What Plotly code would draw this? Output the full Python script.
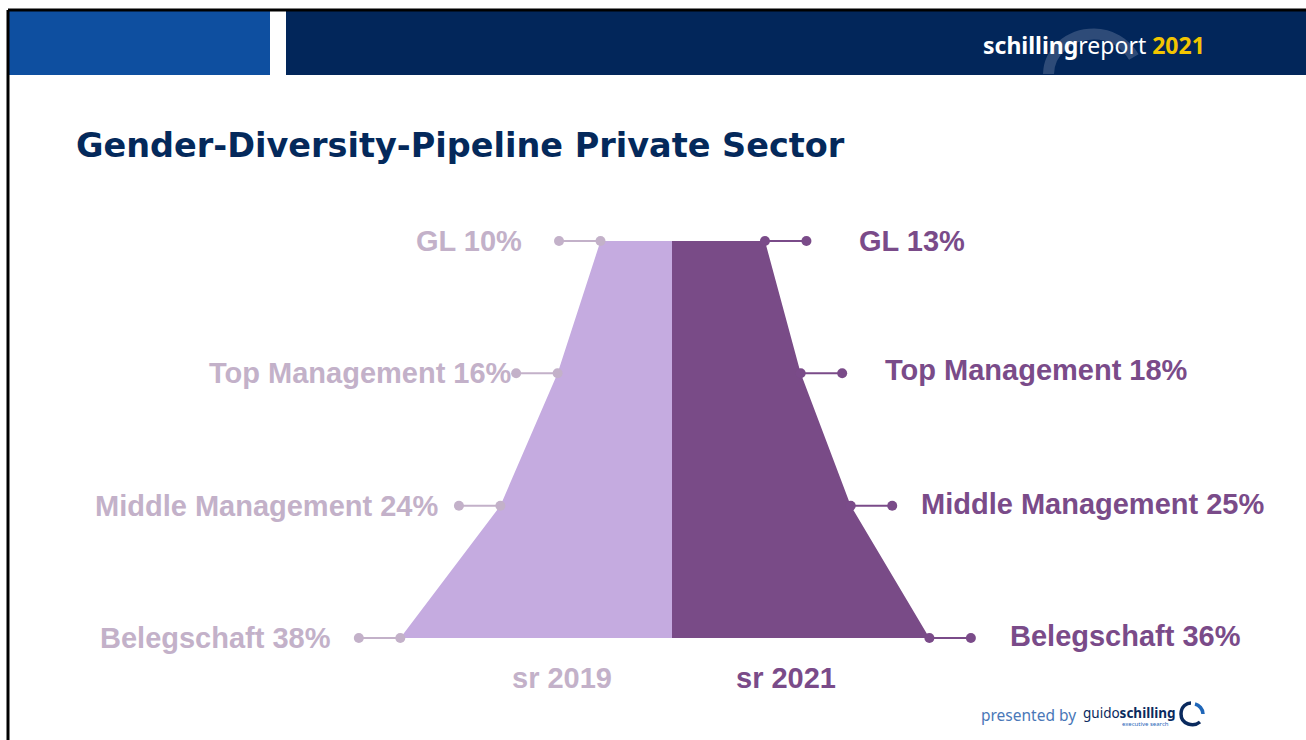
import plotly.graph_objects as go

# Daten (Frauenanteil in %, je Ebene)
levels = ["GL", "Top Management", "Middle Management", "Belegschaft"]
sr2019 = [10, 16, 24, 38]
sr2021 = [13, 18, 25, 36]
years = ["sr 2019", "sr 2021"]

W, H = 1306, 740
C_LIGHT_FILL = "#c5abe0"
C_DARK_FILL = "#794b87"
C_LIGHT_TXT = "#c3b1c9"
C_DARK_TXT = "#7a4b89"
NAVY = "#04295b"
FONT = "Liberation Sans, Arial, sans-serif"

LEAD = 5.8  # Länge der Hinweislinie in %-Einheiten
PX_PER = 7.15
X0 = 672  # Mitte in px
Y_TOP, Y_BOT = 241, 638


def px(x):
    return x / W


def py(y):
    return 1 - y / H


lvl = list(range(len(levels)))
step = (Y_BOT - Y_TOP) / (len(levels) - 1)

fig = go.Figure()

# Trichter links (2019) und rechts (2021)
fig.add_trace(go.Scatter(
    x=[0] + [-v for v in sr2019] + [0], y=[lvl[0]] + lvl + [lvl[-1]],
    fill="toself", fillcolor=C_LIGHT_FILL, mode="lines", line=dict(width=0),
    hoverinfo="skip", showlegend=False))
fig.add_trace(go.Scatter(
    x=[0] + sr2021 + [0], y=[lvl[0]] + lvl + [lvl[-1]],
    fill="toself", fillcolor=C_DARK_FILL, mode="lines", line=dict(width=0),
    hoverinfo="skip", showlegend=False))

# Hinweislinien mit Punkten + Beschriftungen
gap_left = [39, 6, 23, 30]
gap_right = [55, 45, 31, 41]
yshift_right = [0, 3, 2, 2]
for i, name in enumerate(levels):
    v = sr2019[i]
    fig.add_trace(go.Scatter(
        x=[-v, -(v + LEAD)], y=[i, i], mode="lines+markers",
        line=dict(color=C_LIGHT_TXT, width=2), marker=dict(size=10, color=C_LIGHT_TXT),
        hoverinfo="skip", showlegend=False))
    fig.add_annotation(x=-(v + LEAD), y=i, xanchor="right", yanchor="middle",
                       xshift=-gap_left[i] + 4, showarrow=False,
                       text=f"<b>{name} {v}%</b>",
                       font=dict(family=FONT, size=29, color=C_LIGHT_TXT))
    v = sr2021[i]
    fig.add_trace(go.Scatter(
        x=[v, v + LEAD], y=[i, i], mode="lines+markers",
        line=dict(color=C_DARK_TXT, width=2), marker=dict(size=10, color=C_DARK_TXT),
        hoverinfo="skip", showlegend=False))
    fig.add_annotation(x=v + LEAD, y=i, xanchor="left", yanchor="middle",
                       xshift=gap_right[i] - 4, yshift=yshift_right[i], showarrow=False,
                       text=f"<b>{name} {v}%</b>",
                       font=dict(family=FONT, size=29, color=C_DARK_TXT))

# Jahr-Beschriftungen unter dem Trichter
fig.add_annotation(x=px(562), y=py(678), xref="paper", yref="paper", xanchor="center",
                   yanchor="middle", showarrow=False, text=f"<b>{years[0]}</b>",
                   font=dict(family=FONT, size=29, color=C_LIGHT_TXT))
fig.add_annotation(x=px(786), y=py(678), xref="paper", yref="paper", xanchor="center",
                   yanchor="middle", showarrow=False, text=f"<b>{years[1]}</b>",
                   font=dict(family=FONT, size=29, color=C_DARK_TXT))

# Titel
fig.add_annotation(x=px(74), y=py(145), xref="paper", yref="paper", xanchor="left",
                   yanchor="middle", showarrow=False,
                   text="<b>Gender-Diversity-Pipeline Private Sector</b>",
                   font=dict(family="DejaVu Sans, sans-serif", size=33.5, color=NAVY))

# Bogen im Logo-Hintergrund (Kreis um 1094/80, r=46), unten an der Kopfzeile abgeschnitten
arc = (f"M {px(1048.5)},{py(74)} C {px(1049)},{py(52)} {px(1068.6)},{py(34)} {px(1094)},{py(34)} "
       f"C {px(1110.4)},{py(34)} {px(1125.6)},{py(42.8)} {px(1133.8)},{py(57)}")

# Kopfzeile
shapes = [
    dict(type="rect", xref="paper", yref="paper", x0=px(9), x1=px(270), y0=py(75), y1=py(11),
         fillcolor="#0e4fa0", line=dict(width=0), layer="below"),
    dict(type="rect", xref="paper", yref="paper", x0=px(286), x1=1, y0=py(75), y1=py(11),
         fillcolor="#02265a", line=dict(width=0), layer="below"),
    dict(type="path", xref="paper", yref="paper", layer="below", path=arc,
         line=dict(color="#2e4b78", width=11)),
    # weißer Streifen unter der Kopfzeile deckt Bogenende ab
    dict(type="rect", xref="paper", yref="paper", x0=px(1030), x1=px(1150), y0=py(82), y1=py(75),
         fillcolor="white", line=dict(width=0), layer="below"),
    # Rahmen
    dict(type="line", xref="paper", yref="paper", x0=px(8), x1=px(8), y0=0, y1=py(10),
         line=dict(color="black", width=3)),
    dict(type="line", xref="paper", yref="paper", x0=px(8), x1=1, y0=py(10), y1=py(10),
         line=dict(color="black", width=3)),
    # Logo-Ring unten rechts
    dict(type="path", xref="paper", yref="paper",
         path=f"M {px(1200)},{py(722)} C {px(1194)},{py(727)} {px(1181)},{py(725)} {px(1181)},{py(714)} "
              f"C {px(1181)},{py(706)} {px(1187)},{py(703)} {px(1191)},{py(703)}",
         line=dict(color="#0a2a5e", width=3.5)),
    dict(type="path", xref="paper", yref="paper",
         path=f"M {px(1195)},{py(704)} C {px(1199)},{py(705)} {px(1203)},{py(709)} {px(1203)},{py(714)}",
         line=dict(color="#1f66b8", width=3.5)),
]

fig.add_annotation(x=px(981), y=py(45), xref="paper", yref="paper", xanchor="left",
                   yanchor="middle", showarrow=False,
                   text="<b>schilling</b>report <b><span style='color:#f2c500'>2021</span></b>",
                   font=dict(family="Noto Sans, sans-serif", size=23, color="white"))

fig.add_annotation(x=px(979), y=py(715), xref="paper", yref="paper", xanchor="left",
                   yanchor="middle", showarrow=False, text="presented by",
                   font=dict(family="Noto Sans, sans-serif", size=15.5, color="#4a78b8"))
fig.add_annotation(x=px(1081), y=py(713), xref="paper", yref="paper", xanchor="left",
                   yanchor="middle", showarrow=False, text="guido<b>schilling</b>",
                   font=dict(family="Noto Sans, sans-serif", size=13.5, color="#0a2a5e"))
fig.add_annotation(x=px(1120), y=py(724), xref="paper", yref="paper", xanchor="left",
                   yanchor="middle", showarrow=False, text="executive search",
                   font=dict(family="Noto Sans, sans-serif", size=6, color="#1f66b8"))

x_lo = -X0 / PX_PER
x_hi = (W - X0) / PX_PER
y_lo = (0 - Y_TOP) / step
y_hi = (H - Y_TOP) / step

fig.update_layout(
    width=W, height=H, margin=dict(l=0, r=0, t=0, b=0),
    paper_bgcolor="white", plot_bgcolor="white",
    xaxis=dict(range=[x_lo, x_hi], visible=False, fixedrange=True),
    yaxis=dict(range=[y_hi, y_lo], visible=False, fixedrange=True),
    shapes=shapes, showlegend=False,
)

fig.write_html("out.html", config={"displayModeBar": False},
               post_script="document.body.style.margin='0px';")
